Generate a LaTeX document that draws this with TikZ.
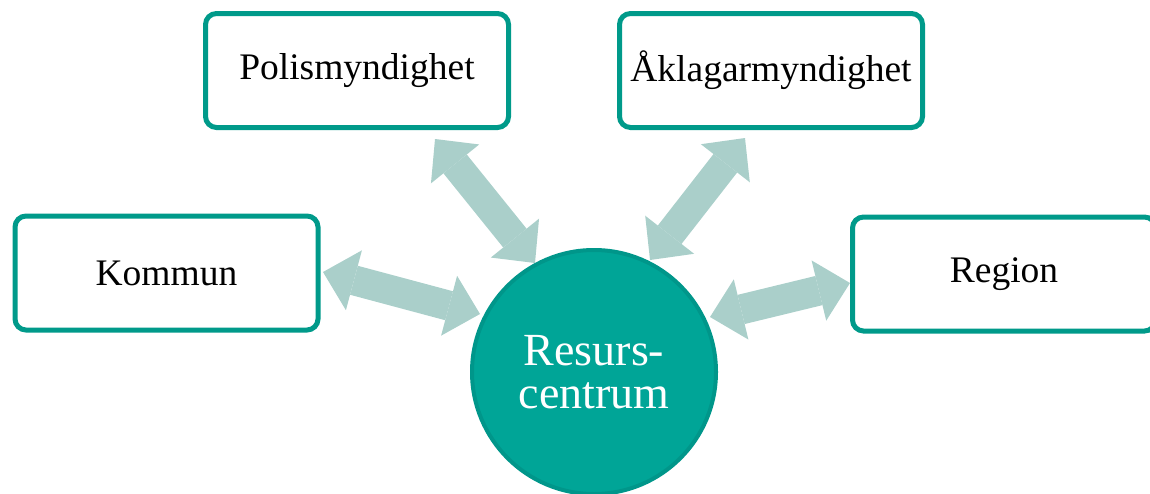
\documentclass[tikz,border=0pt]{standalone}
\usepackage{fontspec}
\setmainfont{Liberation Serif}
\usetikzlibrary{arrows.meta}
\definecolor{boxline}{HTML}{009A8A}
\definecolor{circfill}{HTML}{00A597}
\definecolor{circline}{HTML}{00968A}
\definecolor{arrfill}{HTML}{AACFCA}
\tikzset{
  orgbox/.style={draw=boxline, line width=5pt, rounded corners=11pt, fill=white,
    minimum width=303pt, minimum height=114pt, inner sep=0pt,
    font=\fontsize{37.5}{44}\selectfont, text=black},
  hub/.style={circle, draw=circline, line width=4pt, fill=circfill,
    minimum size=244pt, inner sep=0pt, text=white, align=center,
    font=\fontsize{46}{43}\selectfont},
  blockarr/.style={draw=arrfill, line width=30pt,
    {Triangle[width=62pt,length=32pt,line width=0pt]}-{Triangle[width=62pt,length=32pt,line width=0pt]}}
}
\begin{document}
\begin{tikzpicture}[x=1pt,y=-1pt]
\useasboundingbox (0,0) rectangle (1150,493);
\clip (0,0) rectangle (1150,493);
\node[orgbox] (polis) at (357,70.5) {Polismyndighet};
\node[orgbox] (akl) at (771,70.5) {Åklagarmyndighet};
\node[orgbox] (kom) at (166.5,273) {Kommun};
\node[orgbox] (reg) at (1004,274) {Region};
\node[hub] (rc) at (594,372) {Resurs-\\centrum};
\coordinate (a1s) at (435,139);
\coordinate (a1e) at (535,263);
\coordinate (a2s) at (745,138);
\coordinate (a2e) at (650,260);
\coordinate (a3s) at (323,272);
\coordinate (a3e) at (480,314);
\coordinate (a4s) at (710,317);
\coordinate (a4e) at (850,283);
\draw[blockarr] (a1s) -- (a1e);
\draw[blockarr] (a2s) -- (a2e);
\draw[blockarr] (a3s) -- (a3e);
\draw[blockarr] (a4s) -- (a4e);
\end{tikzpicture}
\end{document}
